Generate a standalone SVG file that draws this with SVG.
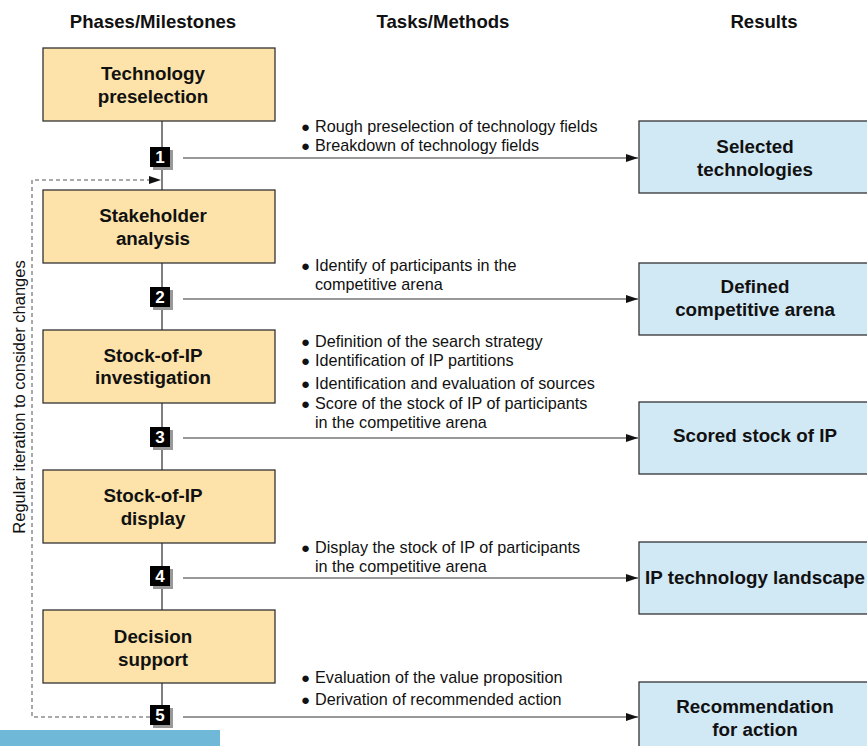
<svg xmlns="http://www.w3.org/2000/svg" width="867" height="746" viewBox="0 0 867 746">
<defs>
<style>
text{font-family:"Liberation Sans",Arial,sans-serif;fill:#111}
.h{font-size:18.6px;font-weight:bold;text-anchor:middle}
.bt{font-size:18.8px;font-weight:bold;text-anchor:middle}
.t{font-size:16.2px}
.b{font-size:15px}
.ph{fill:#fde3a9;stroke:#333;stroke-width:1.3}
.rs{fill:#d1e8f5;stroke:#333;stroke-width:1.3}
.ms{fill:#000}
.sh{fill:#999}
.mt{font-size:17px;font-weight:bold;fill:#fff;text-anchor:middle}
.ln{stroke:#333;stroke-width:1.2;fill:none}
.vl{stroke:#555;stroke-width:1.5;fill:none}
.ds{stroke:#555;stroke-width:1;stroke-dasharray:4,3;fill:none}
</style>
<marker id="ar" markerWidth="12" markerHeight="8" refX="12" refY="4" orient="auto" markerUnits="userSpaceOnUse">
<path d="M0,0 L12,4 L0,8 z" fill="#111"/>
</marker>
</defs>
<rect width="867" height="746" fill="#fff"/>
<text class="h" x="153" y="28">Phases/Milestones</text>
<text class="h" x="443" y="28">Tasks/Methods</text>
<text class="h" x="764" y="28">Results</text>

<g id="connectors">
<line class="vl" x1="162" y1="121" x2="162" y2="610"/>
<line class="vl" x1="162" y1="683" x2="162" y2="710"/>
<line class="ln" x1="183" y1="158" x2="638" y2="158" marker-end="url(#ar)"/>
<line class="ln" x1="183" y1="299" x2="638" y2="299" marker-end="url(#ar)"/>
<line class="ln" x1="183" y1="438" x2="638" y2="438" marker-end="url(#ar)"/>
<line class="ln" x1="183" y1="578" x2="638" y2="578" marker-end="url(#ar)"/>
<line class="ln" x1="183" y1="717" x2="638" y2="717" marker-end="url(#ar)"/>
<path class="ds" d="M150,717 H32 V180 H150"/>
<path d="M149,176 L161,180 L149,184 z" fill="#111"/>
</g>

<g id="phase1"><rect class="ph" x="43" y="48" width="232" height="73"/><text class="bt" x="153" y="80">Technology</text><text class="bt" x="153" y="103">preselection</text></g>
<g id="phase2"><rect class="ph" x="43" y="190" width="232" height="73"/><text class="bt" x="153" y="222">Stakeholder</text><text class="bt" x="153" y="245">analysis</text></g>
<g id="phase3"><rect class="ph" x="43" y="330" width="232" height="73"/><text class="bt" x="153" y="362">Stock-of-IP</text><text class="bt" x="153" y="384">investigation</text></g>
<g id="phase4"><rect class="ph" x="43" y="470" width="232" height="73"/><text class="bt" x="153" y="502">Stock-of-IP</text><text class="bt" x="153" y="525">display</text></g>
<g id="phase5"><rect class="ph" x="43" y="610" width="232" height="73"/><text class="bt" x="153" y="643">Decision</text><text class="bt" x="153" y="666">support</text></g>

<g id="m1"><rect class="sh" x="153" y="150" width="20" height="20"/><rect class="ms" x="150" y="147" width="20" height="20"/><text class="mt" x="160" y="163">1</text></g>
<g id="m2"><rect class="sh" x="153" y="290" width="20" height="20"/><rect class="ms" x="150" y="287" width="20" height="20"/><text class="mt" x="160" y="303">2</text></g>
<g id="m3"><rect class="sh" x="153" y="430" width="20" height="20"/><rect class="ms" x="150" y="427" width="20" height="20"/><text class="mt" x="160" y="443">3</text></g>
<g id="m4"><rect class="sh" x="153" y="569" width="20" height="20"/><rect class="ms" x="150" y="566" width="20" height="20"/><text class="mt" x="160" y="582">4</text></g>
<g id="m5"><rect class="sh" x="153" y="708" width="20" height="20"/><rect class="ms" x="150" y="705" width="20" height="20"/><text class="mt" x="160" y="721">5</text></g>

<g id="tasks1"><text class="t" x="301" y="132"><tspan class="b">●</tspan><tspan x="315">Rough preselection of technology fields</tspan></text><text class="t" x="301" y="151"><tspan class="b">●</tspan><tspan x="315">Breakdown of technology fields</tspan></text></g>
<g id="tasks2"><text class="t" x="301" y="271"><tspan class="b">●</tspan><tspan x="315">Identify of participants in the</tspan></text><text class="t" x="315" y="290">competitive arena</text></g>
<g id="tasks3"><text class="t" x="301" y="347"><tspan class="b">●</tspan><tspan x="315">Definition of the search strategy</tspan></text><text class="t" x="301" y="366"><tspan class="b">●</tspan><tspan x="315">Identification of IP partitions</tspan></text><text class="t" x="301" y="389"><tspan class="b">●</tspan><tspan x="315">Identification and evaluation of sources</tspan></text><text class="t" x="301" y="409"><tspan class="b">●</tspan><tspan x="315">Score of the stock of IP of participants</tspan></text><text class="t" x="315" y="428">in the competitive arena</text></g>
<g id="tasks4"><text class="t" x="301" y="553"><tspan class="b">●</tspan><tspan x="315">Display the stock of IP of participants</tspan></text><text class="t" x="315" y="572">in the competitive arena</text></g>
<g id="tasks5"><text class="t" x="301" y="683"><tspan class="b">●</tspan><tspan x="315">Evaluation of the value proposition</tspan></text><text class="t" x="301" y="705"><tspan class="b">●</tspan><tspan x="315">Derivation of recommended action</tspan></text></g>

<g id="result1"><rect class="rs" x="639" y="121" width="240" height="72"/><text class="bt" x="755" y="153">Selected</text><text class="bt" x="755" y="176">technologies</text></g>
<g id="result2"><rect class="rs" x="639" y="263" width="240" height="72"/><text class="bt" x="755" y="293">Defined</text><text class="bt" x="755" y="316">competitive arena</text></g>
<g id="result3"><rect class="rs" x="639" y="402" width="240" height="72"/><text class="bt" x="755" y="442">Scored stock of IP</text></g>
<g id="result4"><rect class="rs" x="639" y="542" width="240" height="72"/><text class="bt" x="755" y="584">IP technology landscape</text></g>
<g id="result5"><rect class="rs" x="639" y="682" width="240" height="72"/><text class="bt" x="755" y="713">Recommendation</text><text class="bt" x="755" y="736">for action</text></g>

<text transform="translate(25,397) rotate(-90)" style="font-size:16.5px;text-anchor:middle">Regular iteration to consider changes</text>
<rect x="0" y="730" width="220" height="16" fill="#6fb8d8"/>
</svg>
